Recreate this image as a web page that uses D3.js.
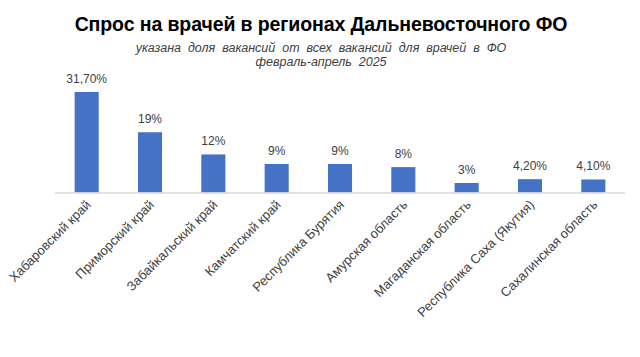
<!DOCTYPE html>
<html><head><meta charset="utf-8">
<script src="https://cdn.jsdelivr.net/npm/d3@7"></script>
<style>body{margin:0;background:#fff}svg{display:block}</style>
</head><body>
<script>
const categories = ["Хабаровский край","Приморский край","Забайкальский край","Камчатский край","Республика Бурятия","Амурская область","Магаданская область","Республика Саха (Якутия)","Сахалинская область"];
const values = [31.7, 19, 12, 9, 9, 8, 3, 4.2, 4.1];
const valueLabels = ["31,70%","19%","12%","9%","9%","8%","3%","4,20%","4,10%"];
const title = "Спрос на врачей в регионах Дальневосточного ФО";
const subtitle = ["указана  доля  вакансий  от  всех  вакансий  для  врачей  в  ФО","февраль-апрель  2025"];

const W = 640, H = 357;
const svg = d3.select("body").append("svg").attr("width", W).attr("height", H);
const font = "'Liberation Sans', Arial, sans-serif";

const x = d3.scaleBand().domain(categories).range([55, 625]).paddingInner(0.62).paddingOuter(0.31);
const y = d3.scaleLinear().domain([0, 35]).range([192.5, 81.5]);

svg.append("text").attr("x", 321).attr("y", 31).attr("text-anchor", "middle")
  .attr("font-family", font).attr("font-weight", "bold").attr("font-size", 19.5).attr("fill", "#000")
  .attr("letter-spacing", -0.1)
  .text(title);
subtitle.forEach((s, i) => {
  svg.append("text").attr("x", 321).attr("y", 52 + i * 14).attr("text-anchor", "middle")
    .attr("font-family", font).attr("font-style", "italic").attr("font-size", 12.5).attr("fill", "#404040")
    .attr("xml:space", "preserve").style("white-space", "pre")
    .text(s);
});

svg.append("g").selectAll("rect").data(values).join("rect")
  .attr("x", (d, i) => x(categories[i]))
  .attr("y", d => y(d))
  .attr("width", x.bandwidth())
  .attr("height", d => y(0) - y(d))
  .attr("fill", "#4472c4");

svg.append("line").attr("x1", 55).attr("x2", 625).attr("y1", y(0) + 0.5).attr("y2", y(0) + 0.5)
  .attr("stroke", "#d9d9d9").attr("stroke-width", 1.5);

svg.append("g").selectAll("text").data(values).join("text")
  .attr("x", (d, i) => x(categories[i]) + x.bandwidth() / 2)
  .attr("y", d => y(d) - 9)
  .attr("text-anchor", "middle")
  .attr("font-family", font).attr("font-size", 12).attr("fill", "#404040")
  .text((d, i) => valueLabels[i]);

const xAxis = d3.axisBottom(x).tickSize(0).tickPadding(0);
const gx = svg.append("g").attr("transform", `translate(0,${y(0)})`).call(xAxis);
gx.select(".domain").remove();
gx.selectAll("text")
  .attr("font-family", font).attr("font-size", 13).attr("fill", "#404040")
  .attr("text-anchor", "end")
  .attr("dy", null).attr("y", 0)
  .attr("transform", "translate(5,13) rotate(-45)");
</script>
</body></html>
